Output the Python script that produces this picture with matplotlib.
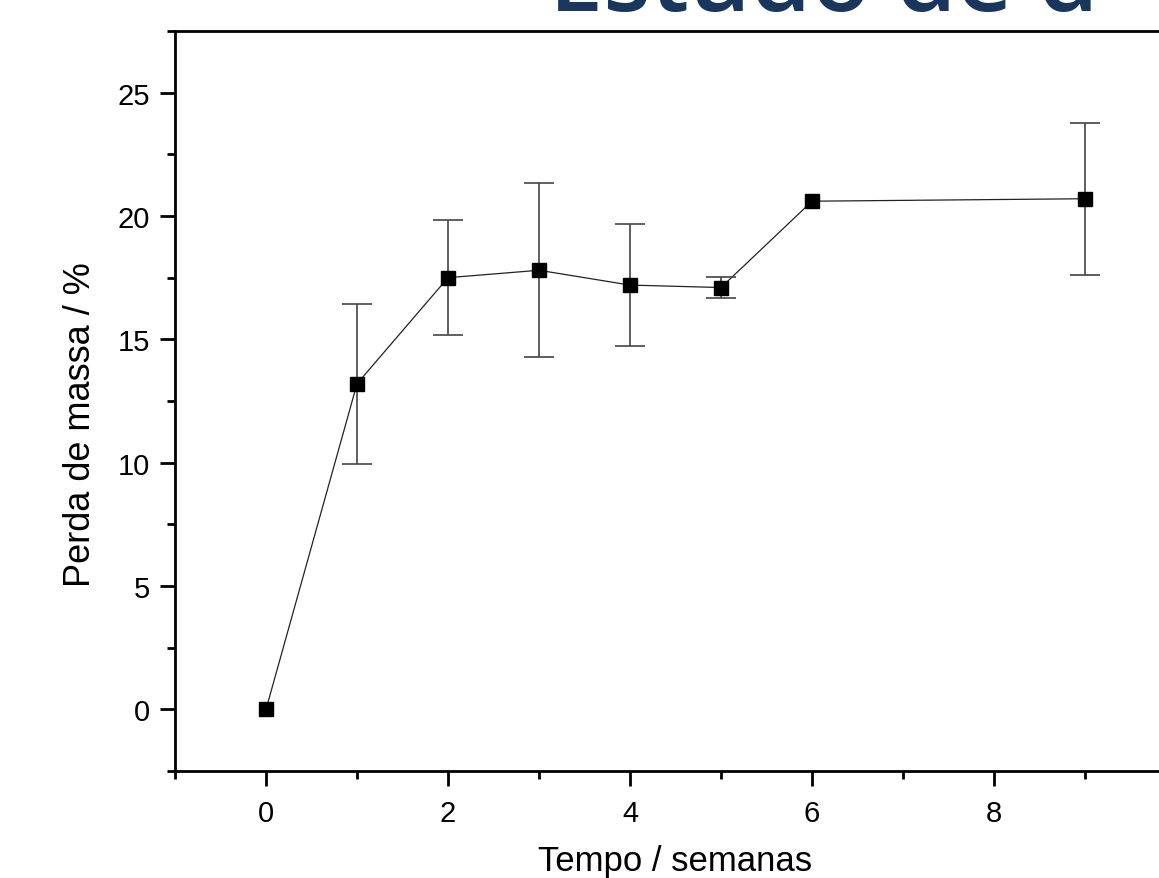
import matplotlib
matplotlib.use('Agg')
import matplotlib.pyplot as plt
from matplotlib.ticker import MultipleLocator
import numpy as np

# Dados
semanas = [0, 1, 2, 3, 4, 5, 6, 9]
perda = [0.0, 13.2, 17.5, 17.8, 17.2, 17.1, 20.6, 20.7]
erro = [0.0, 3.25, 2.34, 3.53, 2.47, 0.43, 0.0, 3.08]
xticks = [0, 2, 4, 6, 8]

plt.rcParams['font.family'] = ['Liberation Sans', 'DejaVu Sans']

fig = plt.figure(figsize=(11.59, 8.79), dpi=100)
ax = fig.add_axes([0.151, 0.1217, 0.8637, 0.8419])

# linha e marcadores
ax.plot(semanas, perda, color='#222222', lw=0.9, zorder=2)

# barras de erro só onde o erro não é nulo
x_err = [x for x, e in zip(semanas, erro) if e > 0]
y_err = [y for y, e in zip(perda, erro) if e > 0]
e_err = [e for e in erro if e > 0]
ax.errorbar(x_err, y_err, yerr=e_err, fmt='none', ecolor='#444444',
            elinewidth=1.2, capsize=11, capthick=1.2, zorder=3)
ax.plot(semanas, perda, 's', color='black', markersize=10, zorder=4)

ax.set_xlim(-1, 10)
ax.set_ylim(-2.5, 27.5)

ax.set_xticks(xticks)
ax.xaxis.set_minor_locator(MultipleLocator(1))
ax.yaxis.set_major_locator(MultipleLocator(5))
ax.yaxis.set_minor_locator(MultipleLocator(2.5))

ax.tick_params(which='major', direction='out', length=11, width=2,
               labelsize=21)
ax.tick_params(axis='x', which='major', pad=9)
ax.tick_params(axis='y', which='major', pad=7)
ax.tick_params(which='minor', direction='out', length=6, width=2)
ax.tick_params(top=False, right=False, which='both')

for s in ax.spines.values():
    s.set_linewidth(2)
ax.spines['right'].set_visible(False)

ax.set_xlabel('Tempo / semanas', fontsize=25)
ax.set_ylabel('Perda de massa / %', fontsize=26)
ax.xaxis.set_label_coords(0.5, -0.099)
ax.yaxis.set_label_coords(-0.077, 0.47)

# título do slide, cortado no topo
fig.text(0.474, 0.988, 'Estudo de d', fontsize=70, color='#1b365d',
         fontweight='semibold', family=['Open Sans', 'DejaVu Sans'],
         ha='left', va='baseline')

fig.savefig('out.png', dpi=100)
